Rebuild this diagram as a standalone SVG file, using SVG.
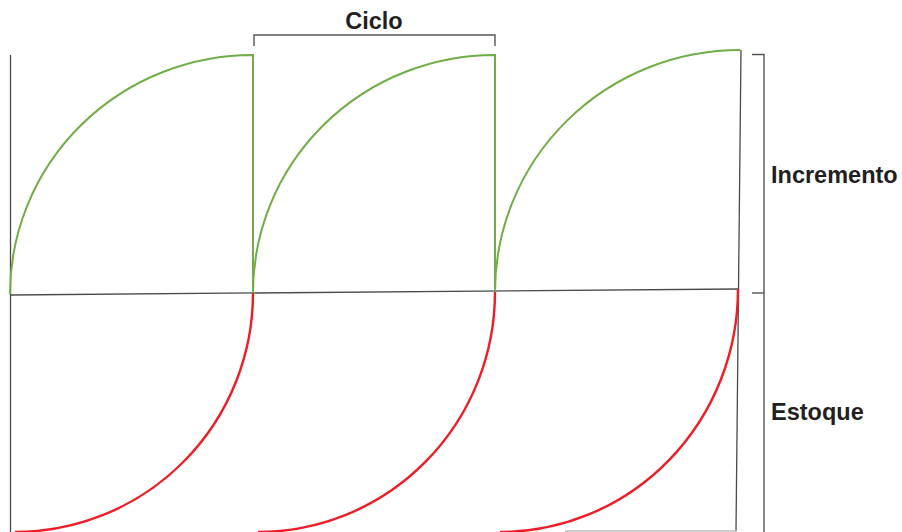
<svg xmlns="http://www.w3.org/2000/svg" width="902" height="532" viewBox="0 0 902 532">
<style>
.ax{stroke:#4a4a4a;stroke-width:1.3;fill:none}
.br{stroke:#555;stroke-width:1.4;fill:none}
.g{stroke:#70ad47;stroke-width:2;fill:none}
.r{stroke:#ee1c24;stroke-width:2.4;fill:none}
.t{font-family:"Liberation Sans",Arial,sans-serif;font-weight:bold;font-size:23.5px;fill:#231f20}
</style>
<rect width="902" height="532" fill="#fff"/>
<g id="axes">
<line class="ax" x1="10.5" y1="55" x2="10.5" y2="532"/>
<line class="ax" x1="10" y1="295" x2="738" y2="289"/>
<line class="ax" x1="741" y1="50" x2="736" y2="531"/>
<line x1="565" y1="531" x2="736" y2="531" stroke="#bbb" stroke-width="1.3"/>
</g>
<g id="incremento-curves">
<path class="g" d="M10,294 A243,239 0 0 1 253,55 L253,294"/>
<path class="g" d="M253,294 A242,238 0 0 1 495,55 L495,292"/>
<path class="g" d="M495,292 A245,242 0 0 1 740,50"/>
</g>
<g id="estoque-curves">
<path class="r" d="M253,293 A238,239 0 0 1 15,532"/>
<path class="r" d="M495,292 A237,240 0 0 1 258,532"/>
<path class="r" d="M738,289 A238,243 0 0 1 500,532"/>
</g>
<g id="ciclo">
<path class="br" d="M254,46 V35 H495 V46"/>
<text class="t" x="374" y="29" text-anchor="middle">Ciclo</text>
</g>
<g id="incremento">
<path class="br" d="M752,54.5 H764 V532"/>
<line class="br" x1="752" y1="293" x2="764" y2="293"/>
<text class="t" x="771" y="183">Incremento</text>
</g>
<g id="estoque">
<text class="t" x="771" y="420">Estoque</text>
</g>
</svg>
